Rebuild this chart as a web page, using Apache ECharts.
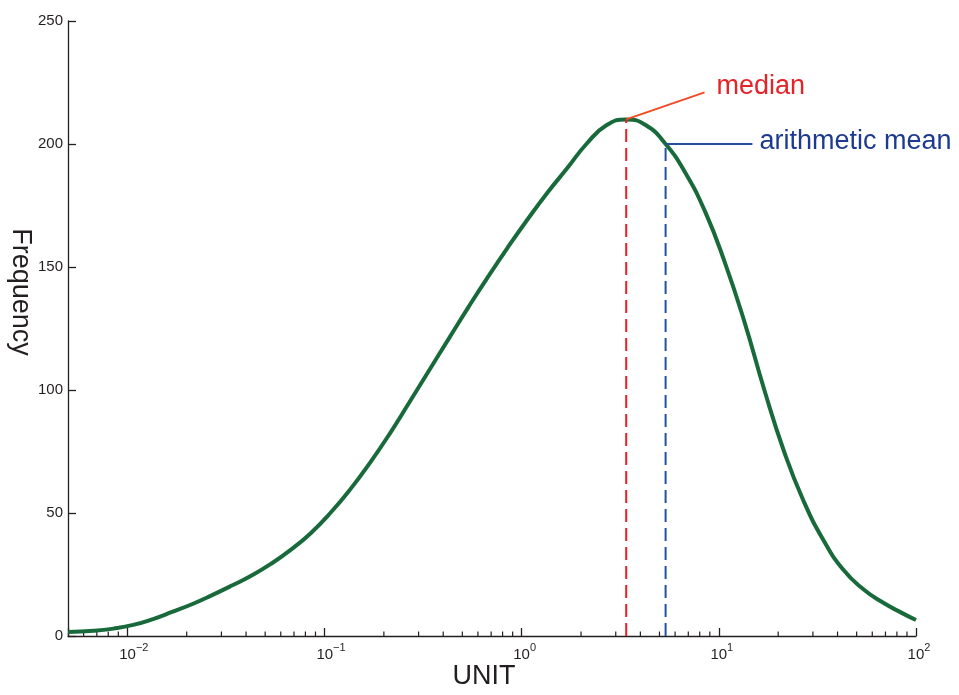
<!DOCTYPE html>
<html>
<head>
<meta charset="utf-8">
<script src="https://cdn.jsdelivr.net/npm/echarts@6/dist/echarts.min.js"></script>
<style>
  html, body { margin: 0; padding: 0; background: #ffffff; }
  #chart { width: 959px; height: 695px; }
</style>
</head>
<body>
<div id="chart"></div>
<script>
// Log-normal shaped frequency curve over a logarithmic unit axis
const unitValues = [0.005, 0.00676, 0.00851, 0.0107, 0.0135, 0.017, 0.0214, 0.0269, 0.0339, 0.0427,
  0.0537, 0.0676, 0.0851, 0.107, 0.135, 0.17, 0.214, 0.269, 0.339, 0.427,
  0.537, 0.676, 0.851, 1.07, 1.35, 1.7, 2.14, 2.69, 3.39, 4.27,
  5.37, 6.76, 8.51, 10.7, 13.5, 17, 21.4, 26.9, 33.9, 42.7,
  53.7, 67.6, 85.1, 100];
const frequency = [1.6, 2.1, 3.0, 4.5, 6.9, 9.9, 13.0, 16.6, 20.5, 24.6,
  29.4, 35.1, 41.8, 50.0, 59.6, 70.4, 82.2, 94.9, 107.9, 120.9,
  133.7, 146.1, 158, 169.3, 180.2, 190.1, 200.2, 207.6, 210, 207.6,
  200, 188.3, 172.6, 152.1, 127.6, 100.1, 75.1, 54.9, 39, 27,
  19.2, 13.7, 9.3, 6.5];

// Markers for the two central values
const medianPoint = [3.39, 210];
const meanPoint = [5.37, 200];
const medianCalloutEnd = [8.46, 221];
const meanCalloutEnd = [14.8, 200];
const calloutTexts = ['median', 'arithmetic mean'];

// Axis ranges and ticks
const xRange = [0.005, 100];
const yRange = [0, 250];
const yStep = 50;

// Minor ticks of the log axis (2..9 within each decade)
const minorTicks = [];
for (let d = -3; d <= 1; d++) {
  for (let m = 2; m <= 9; m++) {
    const v = +(m * Math.pow(10, d)).toPrecision(6);
    if (v > xRange[0] && v < xRange[1]) minorTicks.push([v, 0]);
  }
}

const FONT = '"Liberation Sans", Arial, Helvetica, sans-serif';
const INK = '#231f20';

const curveData = unitValues.map((x, i) => [x, frequency[i]]);

const chart = echarts.init(document.getElementById('chart'), null, { renderer: 'canvas' });

chart.setOption({
  backgroundColor: '#ffffff',
  animation: false,
  grid: { left: 68, right: 43, top: 21, bottom: 59, containLabel: false },
  xAxis: {
    type: 'log',
    logBase: 10,
    min: xRange[0],
    max: xRange[1],
    splitLine: { show: false },
    axisLine: { show: true, lineStyle: { color: INK, width: 1.3 } },
    axisTick: { show: true, inside: true, length: 8, lineStyle: { color: INK, width: 1.3 } },
    axisLabel: {
      margin: 6,
      fontFamily: FONT,
      color: INK,
      formatter: function (v) {
        const e = Math.log10(v);
        const r = Math.round(e);
        if (Math.abs(e - r) > 1e-6) return '';
        const sup = r < 0 ? '\u2212' + (-r) : String(r);
        return '{sp' + (r < 0 ? 'w' : 'n') + '| }{b|10}{s|' + sup + '}';
      },
      rich: {
        b: { fontSize: 15, fontFamily: FONT, color: INK, lineHeight: 20, verticalAlign: 'bottom' },
        s: { fontSize: 11, fontFamily: FONT, color: INK, lineHeight: 12, verticalAlign: 'top' },
        spw: { width: 13, fontSize: 11 },
        spn: { width: 6, fontSize: 11 }
      }
    }
  },
  yAxis: {
    type: 'value',
    min: yRange[0],
    max: yRange[1],
    interval: yStep,
    splitLine: { show: false },
    axisLine: { show: true, lineStyle: { color: INK, width: 1.3 } },
    axisTick: { show: true, inside: true, length: 8, lineStyle: { color: INK, width: 1.3 } },
    axisLabel: { margin: 5, fontSize: 15, fontFamily: FONT, color: INK }
  },
  graphic: [
    {
      type: 'text', x: 484, y: 677,
      style: { text: 'UNIT', font: '27px ' + FONT, fill: INK, align: 'center', verticalAlign: 'middle' }
    },
    {
      type: 'text', x: 20, y: 292, rotation: -Math.PI / 2,
      style: { text: 'Frequency', font: '27px ' + FONT, fill: INK, align: 'center', verticalAlign: 'middle' }
    }
  ],
  series: [
    {
      type: 'custom',
      silent: true,
      data: minorTicks,
      encode: { x: 0, y: 1 },
      renderItem: function (params, api) {
        const p = api.coord([api.value(0), 0]);
        return {
          type: 'line',
          shape: { x1: p[0], y1: p[1], x2: p[0], y2: p[1] - 4.5 },
          style: { stroke: INK, lineWidth: 1.2 }
        };
      },
      z: 1
    },
    {
      type: 'line',
      data: curveData,
      smooth: true,
      showSymbol: false,
      symbol: 'none',
      lineStyle: { color: '#196a3b', width: 4 },
      z: 3
    },
    {
      type: 'line',
      data: [[medianPoint[0], 0], medianPoint],
      symbol: 'none',
      lineStyle: { color: '#ee1d25', width: 2, type: [13, 6] },
      z: 4
    },
    {
      type: 'line',
      data: [[meanPoint[0], 0], meanPoint],
      symbol: 'none',
      lineStyle: { color: '#2450a4', width: 2, type: [13, 6] },
      z: 4
    },
    {
      type: 'line',
      symbol: 'none',
      lineStyle: { color: '#f04a24', width: 2 },
      data: [medianPoint, medianCalloutEnd],
      endLabel: {
        show: true, distance: 12, offset: [0, -6],
        formatter: calloutTexts[0], fontSize: 27, fontFamily: FONT, color: '#e52228'
      },
      z: 5
    },
    {
      type: 'line',
      symbol: 'none',
      lineStyle: { color: '#2a4d9c', width: 2 },
      data: [meanPoint, meanCalloutEnd],
      endLabel: {
        show: true, distance: 7, offset: [0, -2],
        formatter: calloutTexts[1], fontSize: 27, fontFamily: FONT, color: '#1d3b8e'
      },
      z: 5
    }
  ]
});
</script>
</body>
</html>
